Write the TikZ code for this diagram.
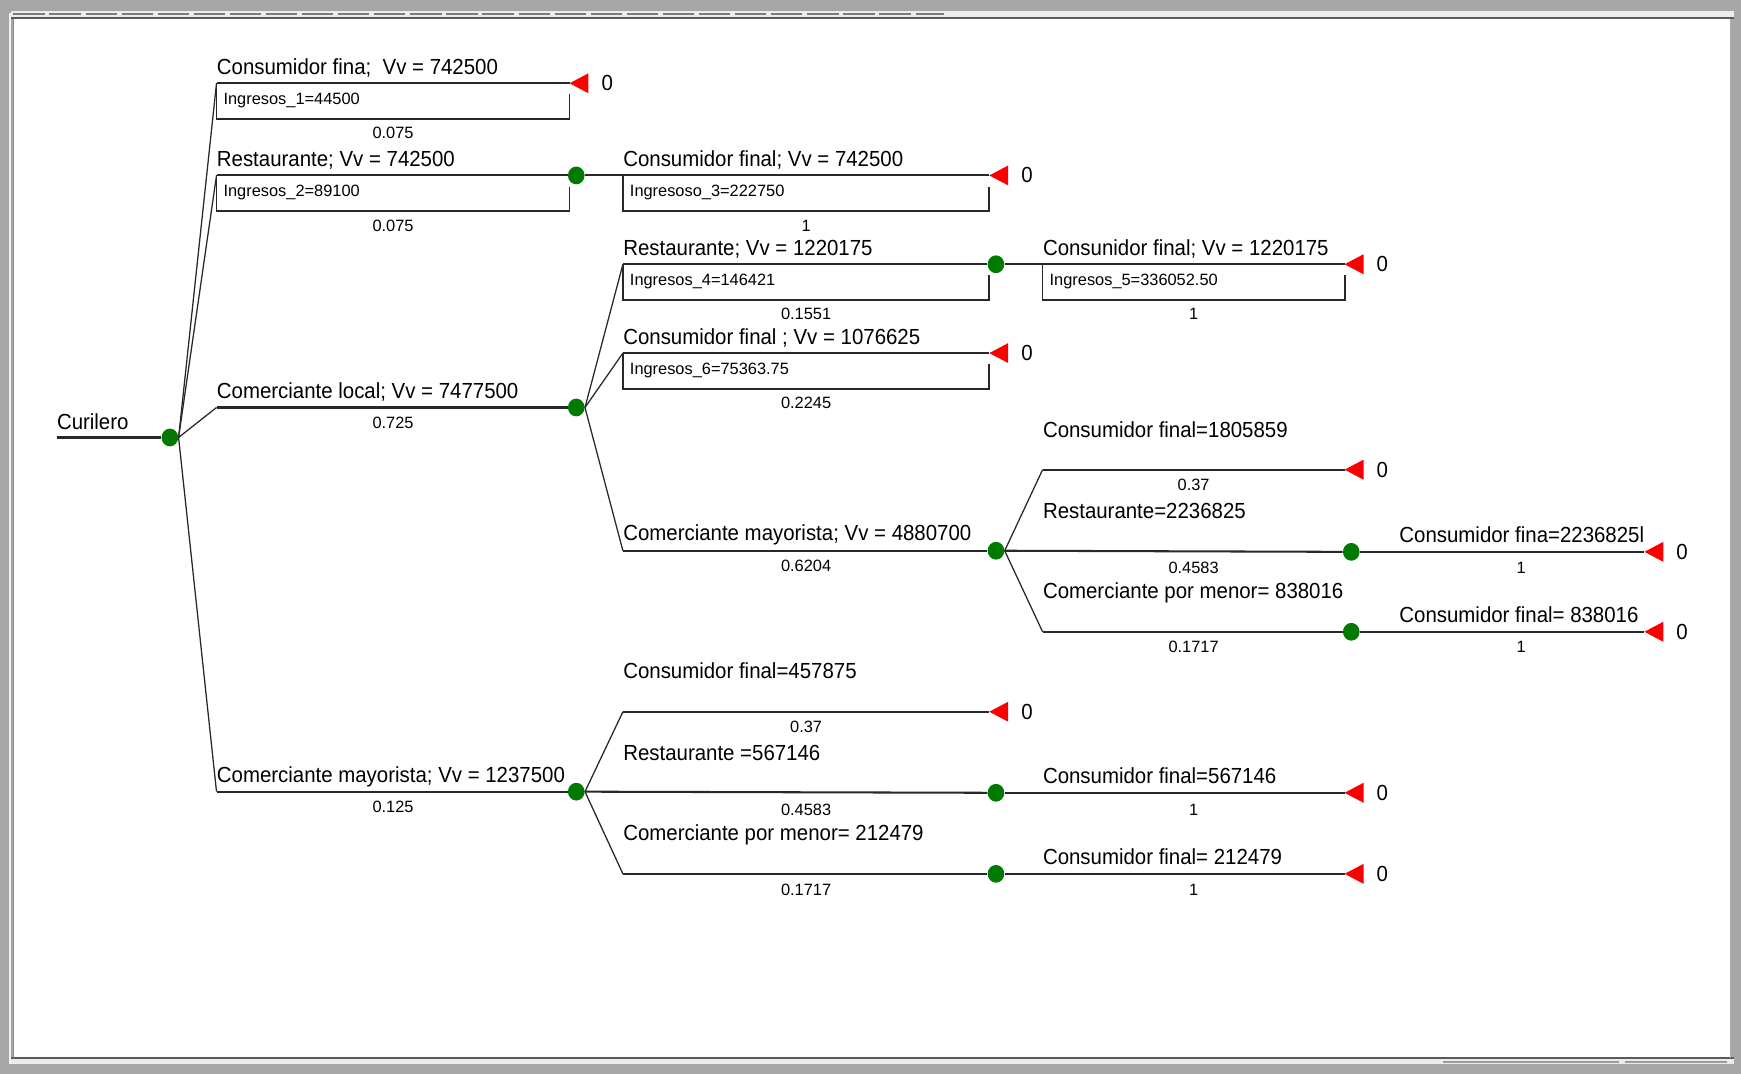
\documentclass[tikz,border=0pt]{standalone}
\usepackage{fontspec}
\newfontfamily\lblfont{Liberation Sans}[FakeStretch=0.935]
\newfontfamily\smlfont{Liberation Sans}
\usetikzlibrary{calc,shapes.geometric}

\definecolor{framegray}{RGB}{166,166,166}
\definecolor{bandgray}{RGB}{236,236,236}
\definecolor{edgegray}{RGB}{90,90,90}
\definecolor{dotgreen}{RGB}{0,122,0}
\definecolor{termred}{RGB}{250,0,0}
\definecolor{ink}{RGB}{40,40,40}

% leaf marker: red triangle pointing left plus its payoff
\newcommand\leafmark[1]{%
  \fill[termred] (#1) -- ++(17,-9) -- ++(0,18) -- cycle;
  \node[zero] at ($(#1)+(34,0)$) {0};}
% framed note under a branch: from the branch start to the given x-end
\newcommand\infobox[3]{%
  \draw[bline] (#1) -- ++(0,32) -| ($(#2)+(0,10)$);
  \node[sml,anchor=base west] at ($(#1)+(6,19)$) {#3};}

\begin{document}
\begin{tikzpicture}[x=0.02cm,y=-0.02cm,
  lbl/.style={anchor=base west,inner sep=0,text=black,font=\lblfont\fontsize{11.2}{13}\selectfont},
  zero/.style={inner sep=0,text=black,font=\lblfont\fontsize{11.2}{13}\selectfont},
  sml/.style={inner sep=0,text=black,font=\smlfont\fontsize{8.4}{10}\selectfont},
  hline/.style={draw=ink,line width=1.05pt},
  dline/.style={draw=ink,line width=0.65pt},
  bline/.style={draw=ink,line width=0.9pt},
  dot/.style={ellipse,fill=dotgreen,draw=none,minimum width=0.30cm,minimum height=0.32cm,inner sep=0}]

\useasboundingbox (0,0) rectangle (1568,967);

% window frame
\fill[framegray] (0,0) rectangle (1568,967);
\fill[bandgray] (10,10) rectangle (1562,15.5);
\draw[edgegray!80,line width=1.3pt,dash pattern=on 16pt off 2.5pt] (12,12.5) -- (850,12.5);
\fill[bandgray] (10,953) rectangle (1562,958);
\draw[edgegray!60,line width=0.8pt,dash pattern=on 90pt off 3pt] (1300,956.5) -- (1555,956.5);
\fill[white] (13,17) rectangle (1558,953);
\draw[edgegray,line width=1.2pt] (10,16) -- (1562,16);
\draw[edgegray,line width=1.2pt] (10,953) -- (1562,953);
\draw[white!85!framegray,line width=0.7pt] (9,12) -- (9,958);
\draw[edgegray!70,line width=0.5pt] (12.5,17) -- (12.5,953);
\draw[edgegray!50,line width=0.5pt] (1558.5,17) -- (1558.5,953);

% ---------- root ----------
\coordinate (r0) at (51,394);
\node[dot] (r) at (153,394) {};
\draw[hline] (r0) -- (r.west);
\node[lbl] at (51,387) {Curilero};

% ---------- level 1 ----------
% Consumidor fina
\coordinate (a1) at (195,75);
\coordinate (t1) at (513,75);
\draw[dline] (r.east) -- (a1);
\draw[hline] (a1) -- (t1);
\leafmark{t1}
\infobox{a1}{t1}{Ingresos\_1=44500}
\node[lbl] at (195,67) {Consumidor fina;\ \ Vv = 742500};
\node[sml] at (354,120) {0.075};

% Restaurante
\coordinate (a2) at (195,158);
\node[dot] (d2) at (519,158) {};
\coordinate (e2) at (513,158);
\draw[dline] (r.east) -- (a2);
\draw[hline] (a2) -- (d2.west);
\infobox{a2}{e2}{Ingresos\_2=89100}
\node[lbl] at (195,150) {Restaurante; Vv = 742500};
\node[sml] at (354,203) {0.075};

\coordinate (a3) at (561,158);
\coordinate (t3) at (891,158);
\draw[hline] (d2.east) -- (a3) -- (t3);
\leafmark{t3}
\infobox{a3}{t3}{Ingresoso\_3=222750}
\node[lbl] at (561,150) {Consumidor final; Vv = 742500};
\node[sml] at (726,203) {1};

% Comerciante local
\coordinate (a4) at (195,367);
\node[dot] (d4) at (519,367) {};
\draw[dline] (r.east) -- (a4);
\draw[hline] (a4) -- (d4.west);
\node[lbl] at (195,359) {Comerciante local; Vv = 7477500};
\node[sml] at (354,381) {0.725};

% -- Restaurante (local)
\coordinate (a5) at (561,238);
\node[dot] (d5) at (897,238) {};
\coordinate (e5) at (891,238);
\draw[dline] (d4.east) -- (a5);
\draw[hline] (a5) -- (d5.west);
\infobox{a5}{e5}{Ingresos\_4=146421}
\node[lbl] at (561,230) {Restaurante; Vv = 1220175};
\node[sml] at (726,283) {0.1551};

\coordinate (a6) at (939,238);
\coordinate (t6) at (1211,238);
\draw[hline] (d5.east) -- (a6) -- (t6);
\leafmark{t6}
\infobox{a6}{t6}{Ingresos\_5=336052.50}
\node[lbl] at (939,230) {Consunidor final; Vv = 1220175};
\node[sml] at (1075,283) {1};

% -- Consumidor final (local)
\coordinate (a7) at (561,318);
\coordinate (t7) at (891,318);
\draw[dline] (d4.east) -- (a7);
\draw[hline] (a7) -- (t7);
\leafmark{t7}
\infobox{a7}{t7}{Ingresos\_6=75363.75}
\node[lbl] at (561,310) {Consumidor final ; Vv = 1076625};
\node[sml] at (726,363) {0.2245};

% -- Comerciante mayorista (local)
\coordinate (a8) at (561,496);
\node[dot] (d8) at (897,496) {};
\draw[dline] (d4.east) -- (a8);
\draw[hline] (a8) -- (d8.west);
\node[lbl] at (561,487) {Comerciante mayorista; Vv = 4880700};
\node[sml] at (726,510) {0.6204};

\coordinate (a9) at (939,423);
\coordinate (t9) at (1211,423);
\draw[dline] (d8.east) -- (a9);
\draw[hline] (a9) -- (t9);
\leafmark{t9}
\node[lbl] at (939,394) {Consumidor final=1805859};
\node[sml] at (1075,437) {0.37};

\node[dot] (d10) at (1217,497) {};
\draw[hline] (d8.east) -- (d10.west);
\node[lbl] at (939,467) {Restaurante=2236825};
\node[sml] at (1075,511) {0.4583};

\coordinate (a11) at (1260,497);
\coordinate (t11) at (1481,497);
\draw[hline] (d10.east) -- (a11) -- (t11);
\leafmark{t11}
\node[lbl] at (1260,489) {Consumidor fina=2236825l};
\node[sml] at (1370,511) {1};

\coordinate (a12) at (939,569);
\node[dot] (d12) at (1217,569) {};
\draw[dline] (d8.east) -- (a12);
\draw[hline] (a12) -- (d12.west);
\node[lbl] at (939,539) {Comerciante por menor= 838016};
\node[sml] at (1075,583) {0.1717};

\coordinate (a13) at (1260,569);
\coordinate (t13) at (1481,569);
\draw[hline] (d12.east) -- (a13) -- (t13);
\leafmark{t13}
\node[lbl] at (1260,561) {Consumidor final= 838016};
\node[sml] at (1370,583) {1};

% Comerciante mayorista
\coordinate (a14) at (195,713);
\node[dot] (d14) at (519,713) {};
\draw[dline] (r.east) -- (a14);
\draw[hline] (a14) -- (d14.west);
\node[lbl] at (195,705) {Comerciante mayorista; Vv = 1237500};
\node[sml] at (354,727) {0.125};

\coordinate (a15) at (561,641);
\coordinate (t15) at (891,641);
\draw[dline] (d14.east) -- (a15);
\draw[hline] (a15) -- (t15);
\leafmark{t15}
\node[lbl] at (561,611) {Consumidor final=457875};
\node[sml] at (726,655) {0.37};

\node[dot] (d16) at (897,714) {};
\draw[hline] (d14.east) -- (d16.west);
\node[lbl] at (561,685) {Restaurante =567146};
\node[sml] at (726,729) {0.4583};

\coordinate (a17) at (939,714);
\coordinate (t17) at (1211,714);
\draw[hline] (d16.east) -- (a17) -- (t17);
\leafmark{t17}
\node[lbl] at (939,706) {Consumidor final=567146};
\node[sml] at (1075,729) {1};

\coordinate (a18) at (561,787);
\node[dot] (d18) at (897,787) {};
\draw[dline] (d14.east) -- (a18);
\draw[hline] (a18) -- (d18.west);
\node[lbl] at (561,757) {Comerciante por menor= 212479};
\node[sml] at (726,801) {0.1717};

\coordinate (a19) at (939,787);
\coordinate (t19) at (1211,787);
\draw[hline] (d18.east) -- (a19) -- (t19);
\leafmark{t19}
\node[lbl] at (939,779) {Consumidor final= 212479};
\node[sml] at (1075,801) {1};

\end{tikzpicture}
\end{document}
